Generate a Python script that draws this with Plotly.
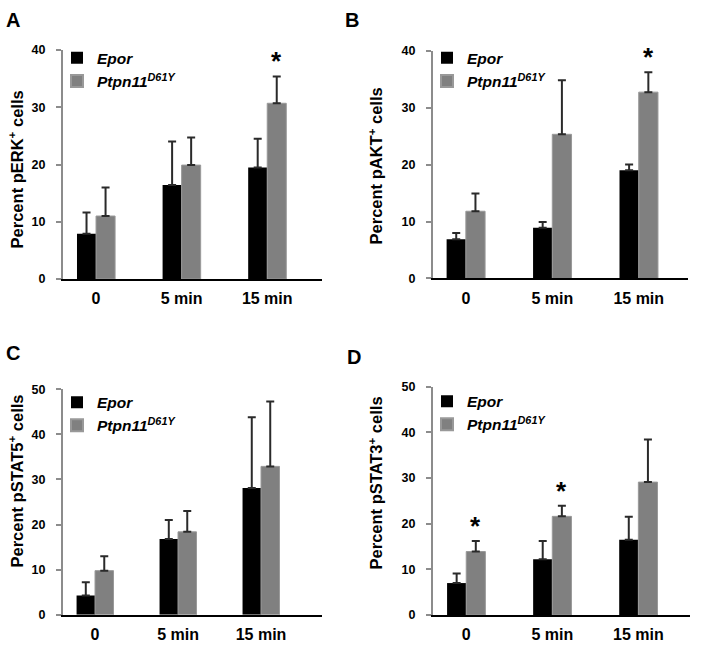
import plotly.graph_objects as go

categories = ["0", "5 min", "15 min"]
series_names = ["<i>Epor</i>", "<i>Ptpn11<sup>D61Y</sup></i>"]

# Panel A: pERK
a_epor = [7.9, 16.4, 19.5]
a_epor_err = [3.7, 7.6, 5.0]
a_ptpn = [11.0, 19.9, 30.7]
a_ptpn_err = [5.0, 4.8, 4.7]
a_stars = [2]

# Panel B: pAKT
b_epor = [6.9, 8.9, 19.0]
b_epor_err = [1.1, 1.0, 1.0]
b_ptpn = [11.8, 25.3, 32.7]
b_ptpn_err = [3.1, 9.5, 3.5]
b_stars = [2]

# Panel C: pSTAT5
c_epor = [4.3, 16.8, 28.1]
c_epor_err = [2.9, 4.2, 15.7]
c_ptpn = [9.8, 18.4, 32.9]
c_ptpn_err = [3.2, 4.6, 14.4]
c_stars = []

# Panel D: pSTAT3
d_epor = [7.0, 12.2, 16.5]
d_epor_err = [2.1, 4.0, 5.0]
d_ptpn = [13.9, 21.6, 29.1]
d_ptpn_err = [2.3, 2.3, 9.3]
d_stars = [0, 1]

y_titles = ["Percent pERK<sup>+</sup> cells", "Percent pAKT<sup>+</sup> cells",
            "Percent pSTAT5<sup>+</sup> cells", "Percent pSTAT3<sup>+</sup> cells"]
y_max = [40, 40, 50, 50]
y_dtick = [10, 10, 10, 10]
panel_letters = ["A", "B", "C", "D"]

W, H = 719, 647
FONT = "Liberation Sans, Arial, sans-serif"

def px(x):
    return x / W

def py(y):
    return 1 - y / H

# layout geometry (pixels) for each panel
geo = [
    dict(x0=63, x1=322, yb=278, yt=44, xr=[-0.386, 2.64], ttl=(16, 166), let=(13, 13),
         leg=(57, 35)),
    dict(x0=433, x1=688, yb=277.5, yt=44.5, xr=[-0.38, 2.57], ttl=(376, 163), let=(352, 13),
         leg=(427, 35)),
    dict(x0=63, x1=322, yb=621.3, yt=390.7, xr=[-0.386, 2.735], ttl=(16, 485), let=(12.5, 354),
         leg=(57, 387)),
    dict(x0=433, x1=690, yb=621.5, yt=388, xr=[-0.386, 2.60], ttl=(376, 487), let=(354, 358),
         leg=(427, 386)),
]

panels = [
    (a_epor, a_epor_err, a_ptpn, a_ptpn_err, a_stars),
    (b_epor, b_epor_err, b_ptpn, b_ptpn_err, b_stars),
    (c_epor, c_epor_err, c_ptpn, c_ptpn_err, c_stars),
    (d_epor, d_epor_err, d_ptpn, d_ptpn_err, d_stars),
]

fig = go.Figure()
xpos = list(range(len(categories)))
annotations = []

for i, (ep, epe, pt, pte, stars) in enumerate(panels):
    sfx = "" if i == 0 else str(i + 1)
    g = geo[i]
    legname = "legend" if i == 0 else f"legend{i + 1}"
    fig.add_trace(go.Bar(
        x=xpos, y=ep, name=series_names[0], xaxis="x" + sfx, yaxis="y" + sfx,
        marker=dict(color="#000000", line=dict(color="#000000", width=0)),
        error_y=dict(type="data", array=epe, arrayminus=[0] * len(epe), symmetric=False,
                     color="#2a2a2a", thickness=2, width=4),
        legend=legname, offsetgroup="a",
    ))
    fig.add_trace(go.Bar(
        x=xpos, y=pt, name=series_names[1], xaxis="x" + sfx, yaxis="y" + sfx,
        marker=dict(color="#808080", line=dict(color="#999999", width=1)),
        error_y=dict(type="data", array=pte, arrayminus=[0] * len(pte), symmetric=False,
                     color="#2a2a2a", thickness=2, width=4),
        legend=legname, offsetgroup="b",
    ))
    fig.update_layout(**{
        "xaxis" + sfx: dict(
            domain=[px(g["x0"]), px(g["x1"])], anchor="y" + sfx, range=g["xr"],
            tickmode="array", tickvals=xpos, ticktext=categories,
            showline=True, linecolor="#000000", linewidth=2, ticks="",
            showgrid=False, zeroline=False,
            tickfont=dict(family=FONT, size=16, color="#000000", weight="bold"),
            ticklabelstandoff=4, fixedrange=True,
        ),
        "yaxis" + sfx: dict(
            domain=[py(g["yb"]), py(g["yt"])], anchor="x" + sfx, range=[0, y_max[i]],
            dtick=y_dtick[i], tick0=0, showline=True, linecolor="#8c8c8c", linewidth=2,
            ticks="outside", ticklen=5, tickwidth=1.5, tickcolor="#8c8c8c",
            showgrid=False, zeroline=False,
            tickfont=dict(family=FONT, size=12.5, color="#000000", weight="bold"),
            ticklabelstandoff=8, fixedrange=True,
        ),
        legname: dict(
            x=px(g["leg"][0]), y=py(g["leg"][1]), xanchor="left", yanchor="top",
            xref="paper", yref="paper", bgcolor="rgba(0,0,0,0)", borderwidth=0,
            font=dict(family=FONT, size=15.5, color="#000000", weight="bold"),
            tracegroupgap=0, itemsizing="constant",
        ),
    })
    # significance stars
    for s in stars:
        annotations.append(dict(
            x=s + 0.111, y=pt[s] + pte[s], xref="x" + sfx, yref="y" + sfx,
            text="*", showarrow=False, yanchor="bottom", yshift=-2,
            font=dict(family=FONT, size=26, color="#000000", weight="bold"),
        ))
    # y titles
    annotations.append(dict(
        x=px(g["ttl"][0]), y=py(g["ttl"][1]), xref="paper", yref="paper",
        text=y_titles[i], textangle=-90, showarrow=False, xanchor="center", yanchor="middle",
        font=dict(family=FONT, size=16.5, color="#000000", weight="bold"),
    ))
    # panel letters
    annotations.append(dict(
        x=px(g["let"][0]), y=py(g["let"][1]), xref="paper", yref="paper",
        text=panel_letters[i], showarrow=False, xanchor="center", yanchor="middle",
        font=dict(family=FONT, size=20, color="#000000", weight="bold"),
    ))

fig.update_layout(
    width=W, height=H, margin=dict(l=0, r=0, t=0, b=0),
    paper_bgcolor="#ffffff", plot_bgcolor="#ffffff",
    barmode="group", bargap=0.555, bargroupgap=0,
    annotations=annotations, showlegend=True,
    font=dict(family=FONT, color="#000000"),
)

fig.write_html("out.html", config={"displayModeBar": False},
               post_script="document.body.style.margin='0px';document.body.style.overflow='hidden';")
